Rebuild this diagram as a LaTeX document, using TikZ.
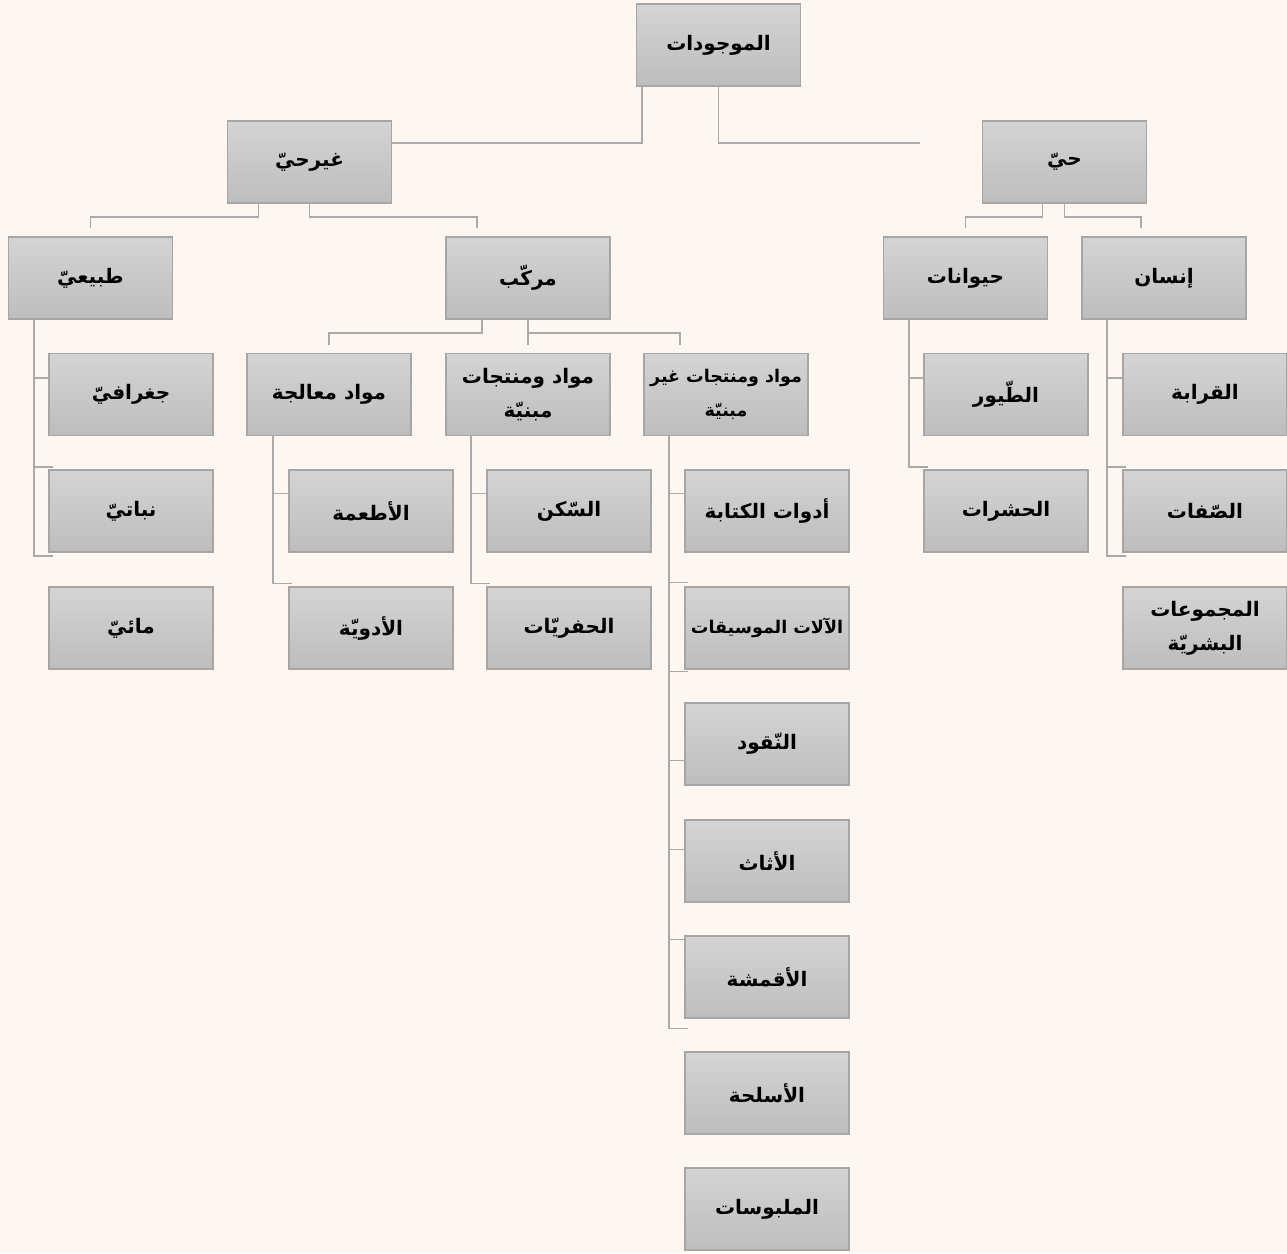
\documentclass[tikz,border=0pt]{standalone}
\usepackage{fontspec}
\usepackage{tikz}
\usetikzlibrary{calc,backgrounds}
\TeXXeTstate=1
\newfontfamily\arabicfont[Script=Arabic]{DejaVu Sans}
\newcommand{\ar}[1]{\beginR #1\endR}

\definecolor{paper}{RGB}{253,246,241}
\definecolor{boxtop}{RGB}{212,212,212}
\definecolor{boxbottom}{RGB}{189,189,189}
\definecolor{boxline}{RGB}{166,166,166}
\definecolor{linkline}{RGB}{170,170,170}

\tikzset{
    box/.style={draw=boxline, line width=1.8pt, top color=boxtop, bottom color=boxbottom,
        minimum width=164pt, minimum height=82pt, inner sep=0pt, align=center,
        font=\arabicfont\bfseries\fontsize{20}{34}\selectfont},
    longbox/.style={box, font=\arabicfont\bfseries\fontsize{17.5}{34}\selectfont},
    link/.style={draw=linkline, line width=1.8pt}
}

\begin{document}
\begin{tikzpicture}[x=1pt,y=-1pt]
    \useasboundingbox (0,0) rectangle (1287,1253);

    % Draw the boxes, top level first
    \node[box] (exist) at (718.5,45) {\ar{الموجودات}};

    \node[box] (nonliving) at (309.5,162) {\ar{غيرحيّ}};
    \node[box] (living) at (1064.5,162) {\ar{حيّ}};

    \node[box] (natural) at (90.5,278) {\ar{طبيعيّ}};
    \node[box] (compound) at (528,278) {\ar{مركّب}};
    \node[box] (animals) at (965.5,278) {\ar{حيوانات}};
    \node[box] (human) at (1164,278) {\ar{إنسان}};

    % Third row
    \node[box] (geo) at (131,394.5) {\ar{جغرافيّ}};
    \node[box] (processed) at (329,394.5) {\ar{مواد معالجة}};
    \node[box] (built) at (528,394.5) {\ar{مواد ومنتجات}\\\ar{مبنيّة}};
    \node[longbox] (unbuilt) at (726,394.5) {\ar{مواد ومنتجات غير}\\\ar{مبنيّة}};
    \node[box] (birds) at (1006,394.5) {\ar{الطّيور}};
    \node[box] (kinship) at (1205,394.5) {\ar{القرابة}};

    % Fourth row
    \node[box] (plant) at (131,511) {\ar{نباتيّ}};
    \node[box] (food) at (371,511) {\ar{الأطعمة}};
    \node[box] (housing) at (569,511) {\ar{السّكن}};
    \node[box] (writing) at (767,511) {\ar{أدوات الكتابة}};
    \node[box] (insects) at (1006,511) {\ar{الحشرات}};
    \node[box] (traits) at (1205,511) {\ar{الصّفات}};

    % Fifth row
    \node[box] (water) at (131,628) {\ar{مائيّ}};
    \node[box] (medicine) at (371,628) {\ar{الأدويّة}};
    \node[box] (fossils) at (569,628) {\ar{الحفريّات}};
    \node[longbox] (music) at (767,628) {\ar{الآلات الموسيقات}};
    \node[box] (groups) at (1205,628) {\ar{المجموعات}\\\ar{البشريّة}};

    % The long column under unbuilt
    \node[box] (money) at (767,744) {\ar{النّقود}};
    \node[box] (furniture) at (767,861) {\ar{الأثاث}};
    \node[box] (fabric) at (767,977) {\ar{الأقمشة}};
    \node[box] (weapons) at (767,1093) {\ar{الأسلحة}};
    \node[box] (clothes) at (767,1209) {\ar{الملبوسات}};

    \begin{scope}[on background layer]
    \fill[paper] (0,0) rectangle (1287,1253);

    % Elbow links between the levels
    \draw[link] ($(exist.south west)+(6,0)$) |- ($(nonliving.north east)+(0,23)$);
    \draw[link] (exist.south) |- ($(living.north west)+(-62,23)$);

    \draw[link] ($(nonliving.south)+(-51,0)$) -- ++(0,13) -| ($(natural.north)+(0,-8)$);
    \draw[link] (nonliving.south) -- ++(0,13) -| ($(compound.north)+(-51,-8)$);
    \draw[link] ($(living.south)+(-22,0)$) -- ++(0,13) -| ($(animals.north)+(0,-8)$);
    \draw[link] (living.south) -- ++(0,13) -| ($(human.north)+(-23,-8)$);

    \draw[link] ($(compound.south)+(-46,0)$) -- ++(0,13) -| ($(processed.north)+(0,-8)$);
    \draw[link] (compound.south) -- ($(built.north)+(0,-8)$);
    \draw[link] ($(compound.south)+(0,13)$) -| ($(unbuilt.north)+(-46,-8)$);

    % Side rails with their ticks
    \draw[link] ($(natural.south west)+(26,0)$) |- ++(19,58) ++(-19,0) |- ++(19,89) ++(-19,0) |- ++(19,89);
    \draw[link] ($(animals.south west)+(26,0)$) |- ++(19,58) ++(-19,0) |- ++(19,89);
    \draw[link] ($(human.south west)+(26,0)$) |- ++(19,58) ++(-19,0) |- ++(19,89) ++(-19,0) |- ++(19,89);
    \draw[link] ($(processed.south west)+(27,0)$) |- ++(19,57) ++(-19,0) |- ++(19,90);
    \draw[link] ($(built.south west)+(26,0)$) |- ++(19,57) ++(-19,0) |- ++(19,90);
    \draw[link] ($(unbuilt.south west)+(26,0)$) |- ++(19,57) ++(-19,0) |- ++(19,89)
        ++(-19,0) |- ++(19,89) ++(-19,0) |- ++(19,89) ++(-19,0) |- ++(19,89)
        ++(-19,0) |- ++(19,90) ++(-19,0) |- ++(19,89);
    \end{scope}
\end{tikzpicture}
\end{document}
